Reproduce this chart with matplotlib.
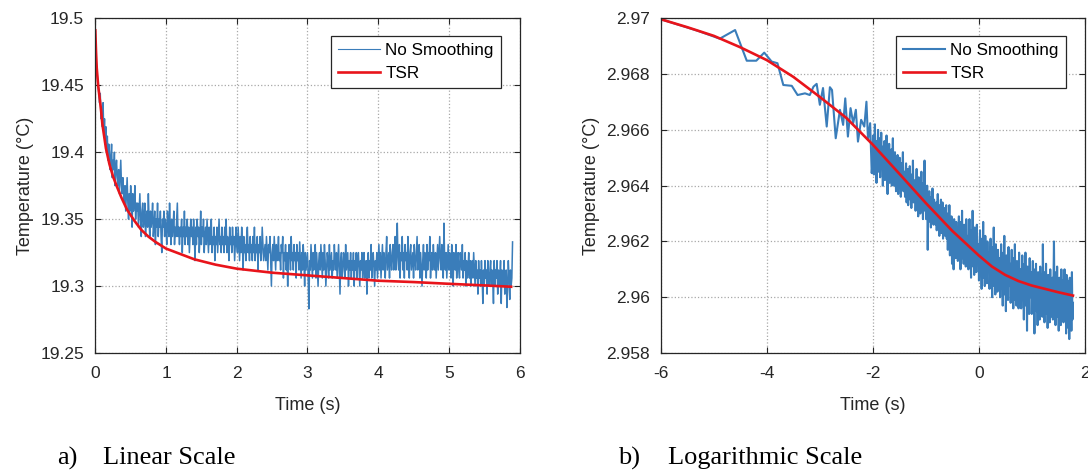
import numpy as np
import matplotlib
matplotlib.use('Agg')
import matplotlib.pyplot as plt

# ---- data: linear scale panel (raw signal, sampled every 0.01 s) ----
dt_lin = 0.01
raw_lin = [
    19.475, 19.469, 19.462, 19.456, 19.450, 19.444, 19.437, 19.444, 19.425, 19.431,
    19.419, 19.437, 19.412, 19.425, 19.406, 19.419, 19.400, 19.412, 19.394, 19.406,
    19.400, 19.387, 19.394, 19.406, 19.381, 19.394, 19.387, 19.400, 19.375, 19.387,
    19.394, 19.381, 19.375, 19.387, 19.369, 19.381, 19.394, 19.375, 19.369, 19.381,
    19.369, 19.362, 19.375, 19.356, 19.369, 19.381, 19.362, 19.350, 19.369, 19.356,
    19.375, 19.362, 19.344, 19.369, 19.356, 19.362, 19.375, 19.350, 19.362, 19.356,
    19.362, 19.344, 19.356, 19.369, 19.350, 19.337, 19.356, 19.362, 19.344, 19.350,
    19.362, 19.337, 19.350, 19.356, 19.344, 19.369, 19.350, 19.337, 19.356, 19.344,
    19.350, 19.362, 19.337, 19.344, 19.356, 19.331, 19.350, 19.344, 19.362, 19.337,
    19.350, 19.344, 19.356, 19.337, 19.325, 19.350, 19.344, 19.356, 19.337, 19.350,
    19.344, 19.331, 19.356, 19.344, 19.337, 19.362, 19.344, 19.331, 19.350, 19.337,
    19.344, 19.356, 19.331, 19.344, 19.337, 19.350, 19.362, 19.337, 19.344, 19.331,
    19.344, 19.337, 19.350, 19.325, 19.344, 19.337, 19.356, 19.331, 19.344, 19.337,
    19.350, 19.331, 19.344, 19.325, 19.337, 19.350, 19.337, 19.344, 19.331, 19.350,
    19.337, 19.319, 19.344, 19.331, 19.350, 19.337, 19.344, 19.325, 19.337, 19.356,
    19.331, 19.344, 19.337, 19.350, 19.325, 19.337, 19.344, 19.331, 19.350, 19.337,
    19.325, 19.344, 19.331, 19.337, 19.350, 19.325, 19.337, 19.331, 19.344, 19.319,
    19.337, 19.331, 19.344, 19.325, 19.337, 19.350, 19.331, 19.337, 19.325, 19.344,
    19.331, 19.337, 19.325, 19.344, 19.331, 19.350, 19.325, 19.337, 19.331, 19.319,
    19.344, 19.331, 19.337, 19.325, 19.344, 19.331, 19.337, 19.319, 19.331, 19.344,
    19.331, 19.325, 19.344, 19.331, 19.319, 19.337, 19.325, 19.344, 19.331, 19.312,
    19.337, 19.325, 19.331, 19.319, 19.337, 19.344, 19.325, 19.331, 19.319, 19.337,
    19.325, 19.331, 19.319, 19.337, 19.325, 19.344, 19.319, 19.331, 19.325, 19.337,
    19.312, 19.331, 19.325, 19.337, 19.319, 19.325, 19.344, 19.331, 19.319, 19.325,
    19.331, 19.319, 19.337, 19.325, 19.312, 19.331, 19.325, 19.337, 19.319, 19.300,
    19.325, 19.331, 19.319, 19.337, 19.325, 19.312, 19.331, 19.319, 19.325, 19.337,
    19.319, 19.325, 19.312, 19.331, 19.325, 19.337, 19.306, 19.325, 19.319, 19.331,
    19.312, 19.325, 19.300, 19.319, 19.331, 19.325, 19.312, 19.337, 19.319, 19.325,
    19.312, 19.331, 19.319, 19.325, 19.306, 19.331, 19.319, 19.325, 19.312, 19.333,
    19.319, 19.306, 19.325, 19.312, 19.331, 19.319, 19.300, 19.325, 19.312, 19.319,
    19.325, 19.306, 19.283, 19.319, 19.312, 19.331, 19.319, 19.306, 19.325, 19.312,
    19.319, 19.331, 19.306, 19.325, 19.312, 19.300, 19.319, 19.325, 19.312, 19.331,
    19.319, 19.306, 19.325, 19.312, 19.331, 19.319, 19.300, 19.312, 19.325, 19.319,
    19.306, 19.331, 19.312, 19.319, 19.325, 19.306, 19.319, 19.312, 19.331, 19.319,
    19.312, 19.325, 19.306, 19.319, 19.331, 19.312, 19.294, 19.319, 19.325, 19.306,
    19.312, 19.325, 19.319, 19.306, 19.331, 19.312, 19.319, 19.325, 19.300, 19.319,
    19.312, 19.325, 19.306, 19.319, 19.312, 19.325, 19.300, 19.319, 19.312, 19.325,
    19.306, 19.319, 19.325, 19.312, 19.300, 19.319, 19.312, 19.325, 19.306, 19.319,
    19.325, 19.306, 19.312, 19.319, 19.294, 19.312, 19.325, 19.306, 19.319, 19.312,
    19.331, 19.306, 19.319, 19.325, 19.312, 19.300, 19.319, 19.312, 19.325, 19.306,
    19.319, 19.331, 19.312, 19.325, 19.306, 19.319, 19.331, 19.312, 19.325, 19.319,
    19.306, 19.325, 19.337, 19.312, 19.319, 19.325, 19.306, 19.331, 19.319, 19.312,
    19.325, 19.331, 19.312, 19.319, 19.337, 19.312, 19.325, 19.347, 19.319, 19.312,
    19.331, 19.306, 19.325, 19.319, 19.337, 19.312, 19.325, 19.306, 19.331, 19.319,
    19.325, 19.312, 19.337, 19.319, 19.306, 19.325, 19.331, 19.312, 19.319, 19.325,
    19.306, 19.331, 19.319, 19.312, 19.325, 19.337, 19.312, 19.319, 19.331, 19.306,
    19.325, 19.312, 19.300, 19.319, 19.331, 19.312, 19.325, 19.319, 19.306, 19.331,
    19.312, 19.325, 19.319, 19.337, 19.306, 19.319, 19.325, 19.312, 19.331, 19.319,
    19.312, 19.325, 19.306, 19.319, 19.331, 19.312, 19.325, 19.337, 19.319, 19.312,
    19.331, 19.325, 19.306, 19.347, 19.319, 19.312, 19.325, 19.306, 19.319, 19.331,
    19.312, 19.325, 19.319, 19.306, 19.331, 19.312, 19.300, 19.325, 19.319, 19.312,
    19.331, 19.306, 19.319, 19.325, 19.312, 19.306, 19.325, 19.319, 19.312, 19.331,
    19.306, 19.319, 19.312, 19.325, 19.300, 19.319, 19.306, 19.312, 19.325, 19.306,
    19.319, 19.300, 19.312, 19.319, 19.306, 19.325, 19.312, 19.300, 19.319, 19.306,
    19.312, 19.294, 19.319, 19.306, 19.312, 19.300, 19.319, 19.306, 19.287, 19.312,
    19.300, 19.319, 19.306, 19.312, 19.294, 19.319, 19.306, 19.300, 19.312, 19.319,
    19.300, 19.312, 19.306, 19.287, 19.319, 19.300, 19.312, 19.306, 19.319, 19.294,
    19.312, 19.300, 19.306, 19.319, 19.287, 19.312, 19.300, 19.306, 19.319, 19.294,
    19.306, 19.312, 19.284, 19.300, 19.319, 19.306, 19.290, 19.312, 19.300, 19.306,
    19.333]
t_lin = np.arange(len(raw_lin)) * dt_lin

tsr_t = [0, 0.01, 0.02, 0.04, 0.06, 0.08, 0.10, 0.15, 0.20, 0.25, 0.30, 0.37, 0.45,
         0.55, 0.65, 0.75, 0.85, 1.0, 1.2, 1.4, 1.7, 2.0, 2.5, 3.0, 3.5, 4.0, 4.5,
         5.0, 5.5, 5.88]
tsr_lin = [19.491, 19.475, 19.463, 19.450, 19.441, 19.432, 19.421, 19.403, 19.391,
           19.382, 19.375, 19.366, 19.357, 19.349, 19.342, 19.337, 19.333, 19.328,
           19.324, 19.320, 19.316, 19.313, 19.310, 19.308, 19.306, 19.304, 19.303,
           19.3017, 19.3005, 19.2995]

# ---- data: logarithmic scale panel ----
early_x = [-5.99, -5.30, -4.89, -4.60, -4.38, -4.20, -4.05, -3.91, -3.80, -3.69,
           -3.53, -3.42, -3.28, -3.19, -3.12, -3.06, -3.00, -2.94, -2.87, -2.81,
           -2.77, -2.70, -2.62, -2.56, -2.52, -2.47, -2.42, -2.37, -2.32, -2.28,
           -2.22, -2.16, -2.12, -2.09, -2.05, -2.02]
early_y = [2.96996, 2.96955, 2.96927, 2.96958, 2.96848, 2.96848, 2.96877, 2.96845,
           2.96839, 2.96761, 2.96758, 2.96725, 2.96731, 2.96725, 2.96755, 2.96765,
           2.96690, 2.96750, 2.96612, 2.96753, 2.96743, 2.96570, 2.96672, 2.96618,
           2.96713, 2.96576, 2.96678, 2.96624, 2.96672, 2.96558, 2.96636, 2.96612,
           2.96701, 2.96564, 2.96624, 2.96445]
# dense part, x from -2.0 to 1.78
dense_y = [
    2.9650, 2.9658, 2.9644, 2.9655, 2.9662, 2.9647, 2.9653, 2.9641, 2.9656, 2.9649,
    2.9660, 2.9645, 2.9652, 2.9657, 2.9643, 2.9650, 2.9659, 2.9646, 2.9654, 2.9640,
    2.9651, 2.9645, 2.9656, 2.9642, 2.9650, 2.9647, 2.9658, 2.9643, 2.9637, 2.9652,
    2.9646, 2.9655, 2.9641, 2.9649, 2.9644, 2.9653, 2.9640, 2.9648, 2.9657, 2.9643,
    2.9647, 2.9640, 2.9652, 2.9644, 2.9638, 2.9649, 2.9642, 2.9651, 2.9637, 2.9646,
    2.9641, 2.9650, 2.9644, 2.9636, 2.9648, 2.9640, 2.9645, 2.9652, 2.9638, 2.9643,
    2.9645, 2.9636, 2.9642, 2.9648, 2.9634, 2.9640, 2.9646, 2.9633, 2.9643, 2.9638,
    2.9647, 2.9635, 2.9641, 2.9632, 2.9644, 2.9637, 2.9649, 2.9634, 2.9640, 2.9636,
    2.9642, 2.9631, 2.9638, 2.9646, 2.9633, 2.9637, 2.9629, 2.9643, 2.9635, 2.9640,
    2.9630, 2.9638, 2.9645, 2.9632, 2.9636, 2.9628, 2.9641, 2.9634, 2.9649, 2.9631,
    2.9637, 2.9628, 2.9634, 2.9640, 2.9617, 2.9633, 2.9627, 2.9638, 2.9630, 2.9635,
    2.9625, 2.9636, 2.9629, 2.9639, 2.9631, 2.9626, 2.9635, 2.9628, 2.9633, 2.9626,
    2.9634, 2.9624, 2.9630, 2.9637, 2.9626, 2.9631, 2.9622, 2.9633, 2.9627, 2.9635,
    2.9623, 2.9629, 2.9634, 2.9621, 2.9630, 2.9625, 2.9632, 2.9622, 2.9628, 2.9633,
    2.9621, 2.9630, 2.9617, 2.9627, 2.9622, 2.9633, 2.9615, 2.9625, 2.9619, 2.9629,
    2.9612, 2.9626, 2.9620, 2.9610, 2.9628, 2.9618, 2.9624, 2.9614, 2.9627, 2.9619,
    2.9625, 2.9613, 2.9620, 2.9629, 2.9616, 2.9623, 2.9610, 2.9627, 2.9618, 2.9631,
    2.9614, 2.9621, 2.9612, 2.9626, 2.9617, 2.9624, 2.9611, 2.9628, 2.9619, 2.9615,
    2.9622, 2.9610, 2.9618, 2.9628, 2.9613, 2.9620, 2.9607, 2.9624, 2.9615, 2.9631,
    2.9611, 2.9619, 2.9608, 2.9625, 2.9614, 2.9621, 2.9609, 2.9626, 2.9616, 2.9612,
    2.9619, 2.9606, 2.9615, 2.9624, 2.9609, 2.9617, 2.9603, 2.9621, 2.9611, 2.9627,
    2.9607, 2.9616, 2.9604, 2.9622, 2.9612, 2.9618, 2.9605, 2.9620, 2.9610, 2.9614,
    2.9616, 2.9603, 2.9612, 2.9621, 2.9606, 2.9614, 2.9600, 2.9618, 2.9608, 2.9625,
    2.9604, 2.9613, 2.9601, 2.9619, 2.9609, 2.9615, 2.9602, 2.9617, 2.9607, 2.9611,
    2.9614, 2.9600, 2.9610, 2.9619, 2.9603, 2.9612, 2.9597, 2.9616, 2.9605, 2.9622,
    2.9601, 2.9611, 2.9595, 2.9615, 2.9606, 2.9613, 2.9599, 2.9618, 2.9604, 2.9609,
    2.9612, 2.9598, 2.9608, 2.9617, 2.9601, 2.9610, 2.9596, 2.9614, 2.9603, 2.9619,
    2.9599, 2.9609, 2.9597, 2.9613, 2.9604, 2.9611, 2.9596, 2.9616, 2.9602, 2.9607,
    2.9610, 2.9596, 2.9606, 2.9615, 2.9599, 2.9608, 2.9592, 2.9612, 2.9601, 2.9616,
    2.9597, 2.9607, 2.9588, 2.9611, 2.9602, 2.9609, 2.9594, 2.9614, 2.9600, 2.9605,
    2.9609, 2.9594, 2.9604, 2.9613, 2.9597, 2.9606, 2.9587, 2.9610, 2.9599, 2.9612,
    2.9595, 2.9605, 2.9590, 2.9609, 2.9600, 2.9607, 2.9592, 2.9611, 2.9598, 2.9603,
    2.9608, 2.9593, 2.9619, 2.9598, 2.9605, 2.9591, 2.9609, 2.9597, 2.9612, 2.9594,
    2.9604, 2.9589, 2.9608, 2.9599, 2.9606, 2.9591, 2.9610, 2.9596, 2.9603, 2.9593,
    2.9607, 2.9592, 2.9604, 2.9620, 2.9597, 2.9605, 2.9590, 2.9609, 2.9595, 2.9611,
    2.9593, 2.9603, 2.9588, 2.9607, 2.9598, 2.9605, 2.9590, 2.9610, 2.9596, 2.9601,
    2.9606, 2.9591, 2.9603, 2.9610, 2.9594, 2.9604, 2.9587, 2.9608, 2.9593, 2.9606,
    2.9589, 2.9602, 2.9585, 2.9607, 2.9595, 2.9603, 2.9588, 2.9609, 2.9592, 2.9598]
dense_x = np.linspace(-2.0, 1.78, len(dense_y))
log_x = np.concatenate([early_x, dense_x])
log_y = np.concatenate([early_y, dense_y])

tsr_logx = [-5.99, -5.5, -5.0, -4.5, -4.0, -3.5, -3.0, -2.5, -2.0, -1.5, -1.0, -0.5,
            0.0, 0.25, 0.5, 0.75, 1.0, 1.25, 1.5, 1.78]
tsr_logy = [2.96996, 2.96968, 2.96937, 2.96896, 2.96850, 2.96790, 2.96718, 2.96643,
            2.96547, 2.96443, 2.96338, 2.96238, 2.96150, 2.96110, 2.96080, 2.96058,
            2.96042, 2.96030, 2.96018, 2.96006]

lin_xticks = [0, 1, 2, 3, 4, 5, 6]
lin_yticks = [19.25, 19.3, 19.35, 19.4, 19.45, 19.5]
lin_ylabels = ['19.25', '19.3', '19.35', '19.4', '19.45', '19.5']
log_xticks = [-6, -4, -2, 0, 2]
log_yticks = [2.958, 2.96, 2.962, 2.964, 2.966, 2.968, 2.97]
log_ylabels = ['2.958', '2.96', '2.962', '2.964', '2.966', '2.968', '2.97']

blue = '#3A7DBA'
red = '#E8141B'
ink = '#262626'

plt.rcParams['font.family'] = ['Liberation Sans', 'DejaVu Sans']
plt.rcParams['font.size'] = 12
plt.rcParams['axes.unicode_minus'] = False

fig = plt.figure(figsize=(10.88, 4.71), dpi=100)
ax1 = fig.add_axes([0.0876, 0.2505, 0.390, 0.7106])
ax2 = fig.add_axes([0.6075, 0.2505, 0.3894, 0.7106])


def style(ax):
    ax.grid(True, linestyle=':', color='#a8a8a8', linewidth=0.9)
    ax.set_axisbelow(True)
    ax.tick_params(direction='in', length=4, width=0.8, top=True, right=True,
                   labelsize=12.5, colors=ink)
    ax.tick_params(axis='x', pad=9)
    ax.tick_params(axis='y', pad=8)
    for s in ax.spines.values():
        s.set_linewidth(0.9)
        s.set_color(ink)


ax1.plot(t_lin, raw_lin, color=blue, lw=1.1, label='No Smoothing')
ax1.plot(tsr_t, tsr_lin, color=red, lw=1.9, label='TSR')
ax1.set_xlim(0, 6)
ax1.set_ylim(19.25, 19.5)
ax1.set_xticks(lin_xticks)
ax1.set_yticks(lin_yticks)
ax1.set_yticklabels(lin_ylabels)
ax1.set_xlabel('Time (s)', fontsize=13, color=ink, labelpad=12)
ax1.set_ylabel('Temperature (°C)', fontsize=13, color=ink, labelpad=4.5)
style(ax1)

ax2.plot(log_x, log_y, color=blue, lw=1.5, label='No Smoothing')
ax2.plot(tsr_logx, tsr_logy, color=red, lw=1.9, label='TSR')
ax2.set_xlim(-6, 2)
ax2.set_ylim(2.958, 2.97)
ax2.set_xticks(log_xticks)
ax2.set_yticks(log_yticks)
ax2.set_yticklabels(log_ylabels)
ax2.set_xlabel('Time (s)', fontsize=13, color=ink, labelpad=12)
ax2.set_ylabel('Temperature (°C)', fontsize=13, color=ink, labelpad=4.5)
style(ax2)

for ax in (ax1, ax2):
    leg = ax.legend(loc='upper right', bbox_to_anchor=(1 - 19 / 424, 1 - 18 / 335),
                    borderaxespad=0, fancybox=False, framealpha=1, fontsize=12.3,
                    handlelength=2.5, handletextpad=0.3, borderpad=0.4,
                    labelspacing=0.45)
    leg.get_frame().set_edgecolor(ink)
    leg.get_frame().set_linewidth(0.9)
    # legend handle of the raw signal is thinner in the legend of the linear panel
ax1.get_legend().get_lines()[0].set_linewidth(0.8)

cap = dict(family=['Liberation Serif', 'DejaVu Serif'], fontsize=19, va='center')
fig.text(57 / 1088, 1 - 458 / 471, 'a)', **cap)
fig.text(103 / 1088, 1 - 458 / 471, 'Linear Scale', **cap)
fig.text(618 / 1088, 1 - 458 / 471, 'b)', **cap)
fig.text(668 / 1088, 1 - 458 / 471, 'Logarithmic Scale', **cap)

fig.savefig('out.png', dpi=100)
